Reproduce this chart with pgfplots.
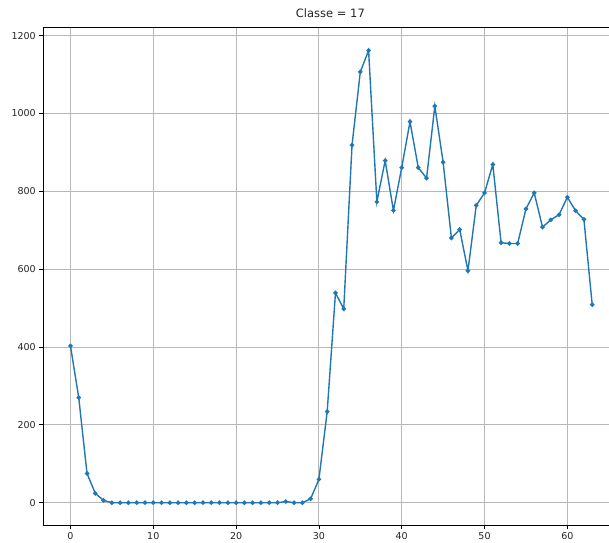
\documentclass[border=0pt]{standalone}
\usepackage{fontspec}
\setmainfont{DejaVu Sans}
\usepackage{pgfplots}
\pgfplotsset{compat=1.18}
\definecolor{mplblue}{HTML}{1F77B4}
\begin{document}
\begin{tikzpicture}
\begin{axis}[
  scale only axis,
  width=565.7bp, height=497.7bp,
  xmin=-3.28, xmax=65.03,
  ymin=-57.3, ymax=1221.6,
  axis y line*=left,
  xtick={0,10,20,30,40,50,60},
  ytick={0,200,400,600,800,1000,1200},
  tick pos=left,
  tick align=outside,
  major tick length=4bp,
  tick style={black, line width=0.8bp},
  axis line style={black, line width=0.9bp},
  grid=major,
  grid style={color=black!28, line width=0.9bp},
  tick label style={font=\fontsize{9.5bp}{11bp}\selectfont, text=black!85},
  /pgf/number format/assume math mode=true,
  scaled ticks=false,
  yticklabel style={/pgf/number format/1000 sep={}},
  title={Classe = 17},
  title style={font=\fontsize{11.5bp}{13bp}\selectfont, text=black!85, at={(rel axis cs:0.5075,1)}, anchor=south, yshift=0bp},
]
\addplot[color=mplblue, line width=1.4bp, mark=*, mark size=1.5bp, mark options={fill=mplblue, draw=mplblue}] coordinates {
(0,403) (1,270) (2,75) (3,24) (4,6) (5,0) (6,0) (7,0) (8,0) (9,0)
(10,0) (11,0) (12,0) (13,0) (14,0) (15,0) (16,0) (17,0) (18,0) (19,0)
(20,0) (21,0) (22,0) (23,0) (24,0) (25,0) (26,3) (27,0) (28,0) (29,10)
(30,60) (31,234) (32,539) (33,498) (34,919) (35,1107) (36,1162) (37,773) (38,879) (39,751)
(40,861) (41,979) (42,861) (43,834) (44,1019) (45,875) (46,680) (47,702) (48,596) (49,764)
(50,796) (51,869) (52,668) (53,666) (54,666) (55,755) (56,796) (57,708) (58,727) (59,740)
(60,785) (61,750) (62,728) (63,509)
};
\end{axis}
\pgfresetboundingbox
\path (current axis.south west) ++(-43.3bp,-18bp) coordinate (bbA);
\path (current axis.north east) ++(0bp,27.3bp) coordinate (bbB);
\path[use as bounding box] (bbA) rectangle (bbB);
\end{tikzpicture}
\end{document}
